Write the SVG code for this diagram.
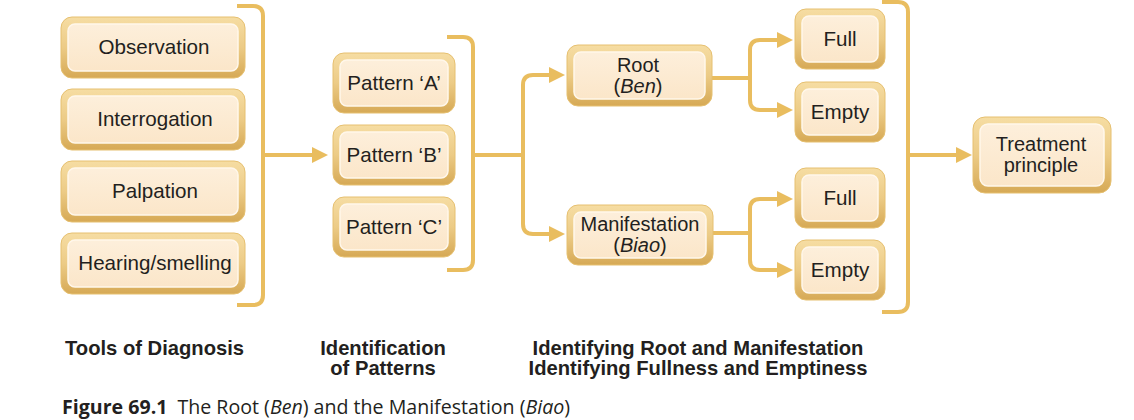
<svg xmlns="http://www.w3.org/2000/svg" width="1134" height="420" viewBox="0 0 1134 420">
<style>
.lbl{font-family:"Liberation Sans",Arial,sans-serif;font-size:20.6px;fill:#231f20;text-anchor:middle}
.two{font-size:20px}
.hd{font-family:"Liberation Sans",Arial,sans-serif;font-size:20.2px;font-weight:bold;fill:#231f20}
.cap{font-family:"Open Sans","Noto Sans",sans-serif;font-size:19.6px;fill:#231f20}
.ln{fill:none;stroke:#e9bd5f;stroke-width:4}
.ah{fill:#e9bd5f}
.outer{fill:url(#og);stroke:#e6c070;stroke-width:1}
.inner{fill:url(#ig);stroke:#fff7ea;stroke-width:1.5}
</style>
<defs>
<linearGradient id="og" x1="0" y1="0" x2="0" y2="1">
<stop offset="0" stop-color="#f6dda3"/>
<stop offset="0.5" stop-color="#eccb86"/>
<stop offset="1" stop-color="#d6a955"/>
</linearGradient>
<linearGradient id="ig" x1="0" y1="0" x2="0" y2="1">
<stop offset="0" stop-color="#fdefdb"/>
<stop offset="1" stop-color="#fbe6c9"/>
</linearGradient>
</defs>
<rect width="1134" height="420" fill="#ffffff"/>

<g id="connectors">
<path class="ln" d="M237,6 H253 Q263,6 263,16 V295 Q263,305 253,305 H237"/>
<path class="ln" d="M263,155 H314"/>
<polygon class="ah" points="312,147 328,155 312,163"/>
<path class="ln" d="M447,37 H463 Q473,37 473,47 V260 Q473,270 463,270 H447"/>
<path class="ln" d="M473,155 H523"/>
<path class="ln" d="M551,75 H533 Q523,75 523,85 V224 Q523,234 533,234 H551"/>
<polygon class="ah" points="549,67 565,75 549,83"/>
<polygon class="ah" points="549,226 565,234 549,242"/>
<path class="ln" d="M712,78 H750"/>
<path class="ln" d="M779,40 H760 Q750,40 750,50 V100 Q750,110 760,110 H779"/>
<polygon class="ah" points="777,32 793,40 777,48"/>
<polygon class="ah" points="777,102 793,110 777,118"/>
<path class="ln" d="M713,233 H750"/>
<path class="ln" d="M779,199 H760 Q750,199 750,209 V260 Q750,270 760,270 H779"/>
<polygon class="ah" points="777,191 793,199 777,207"/>
<polygon class="ah" points="777,262 793,270 777,278"/>
<path class="ln" d="M882,2 H898 Q908,2 908,12 V302 Q908,312 898,312 H882"/>
<path class="ln" d="M908,155 H958"/>
<polygon class="ah" points="956,147 972,155 956,163"/>
</g>

<g id="observation">
<rect class="outer" x="61" y="17" width="184" height="61" rx="11"/>
<rect class="inner" x="68" y="24" width="170" height="47" rx="7"/>
<text class="lbl" x="154" y="54">Observation</text>
</g>
<g id="interrogation">
<rect class="outer" x="61" y="89" width="184" height="61" rx="11"/>
<rect class="inner" x="68" y="96" width="170" height="47" rx="7"/>
<text class="lbl" x="155" y="126">Interrogation</text>
</g>
<g id="palpation">
<rect class="outer" x="61" y="161" width="184" height="61" rx="11"/>
<rect class="inner" x="68" y="168" width="170" height="47" rx="7"/>
<text class="lbl" x="155" y="198">Palpation</text>
</g>
<g id="hearing">
<rect class="outer" x="61" y="233" width="184" height="61" rx="11"/>
<rect class="inner" x="68" y="240" width="170" height="47" rx="7"/>
<text class="lbl" x="155" y="270">Hearing/smelling</text>
</g>

<g id="patternA">
<rect class="outer" x="333" y="53" width="122" height="60" rx="11"/>
<rect class="inner" x="340" y="60" width="108" height="46" rx="7"/>
<text class="lbl" x="394" y="90">Pattern ‘A’</text>
</g>
<g id="patternB">
<rect class="outer" x="333" y="125" width="122" height="60" rx="11"/>
<rect class="inner" x="340" y="132" width="108" height="46" rx="7"/>
<text class="lbl" x="394" y="162">Pattern ‘B’</text>
</g>
<g id="patternC">
<rect class="outer" x="333" y="197" width="122" height="60" rx="11"/>
<rect class="inner" x="340" y="204" width="108" height="46" rx="7"/>
<text class="lbl" x="394" y="234">Pattern ‘C’</text>
</g>

<g id="root">
<rect class="outer" x="567" y="45" width="145" height="61" rx="11"/>
<rect class="inner" x="574" y="52" width="131" height="47" rx="7"/>
<text class="lbl two" x="638" y="72">Root</text>
<text class="lbl two" x="638" y="93">(<tspan font-style="italic">Ben</tspan>)</text>
</g>
<g id="manifestation">
<rect class="outer" x="567" y="205" width="146" height="60" rx="11"/>
<rect class="inner" x="574" y="212" width="132" height="46" rx="7"/>
<text class="lbl two" x="640" y="231">Manifestation</text>
<text class="lbl two" x="640" y="252">(<tspan font-style="italic">Biao</tspan>)</text>
</g>

<g id="full1">
<rect class="outer" x="795" y="9" width="90" height="60" rx="11"/>
<rect class="inner" x="802" y="16" width="76" height="46" rx="7"/>
<text class="lbl" x="840" y="46">Full</text>
</g>
<g id="empty1">
<rect class="outer" x="795" y="82" width="90" height="60" rx="11"/>
<rect class="inner" x="802" y="89" width="76" height="46" rx="7"/>
<text class="lbl" x="840" y="119">Empty</text>
</g>
<g id="full2">
<rect class="outer" x="795" y="168" width="90" height="60" rx="11"/>
<rect class="inner" x="802" y="175" width="76" height="46" rx="7"/>
<text class="lbl" x="840" y="205">Full</text>
</g>
<g id="empty2">
<rect class="outer" x="795" y="240" width="90" height="60" rx="11"/>
<rect class="inner" x="802" y="247" width="76" height="46" rx="7"/>
<text class="lbl" x="840" y="277">Empty</text>
</g>

<g id="treatment">
<rect class="outer" x="973" y="117" width="138" height="76" rx="12"/>
<rect class="inner" x="980" y="124" width="124" height="62" rx="8"/>
<text class="lbl two" x="1041" y="151">Treatment</text>
<text class="lbl two" x="1041" y="172">principle</text>
</g>

<g id="headings">
<text class="hd" x="65" y="355">Tools of Diagnosis</text>
<text class="hd" x="383" y="355" text-anchor="middle">Identification</text>
<text class="hd" x="383" y="375" text-anchor="middle">of Patterns</text>
<text class="hd" x="698" y="355" text-anchor="middle">Identifying Root and Manifestation</text>
<text class="hd" x="698" y="375" text-anchor="middle">Identifying Fullness and Emptiness</text>
</g>

<g id="caption">
<text class="cap" x="62" y="414"><tspan font-weight="bold">Figure 69.1</tspan><tspan dx="10">The Root (</tspan><tspan font-style="italic">Ben</tspan>) and the Manifestation (<tspan font-style="italic">Biao</tspan>)</text>
</g>
</svg>
